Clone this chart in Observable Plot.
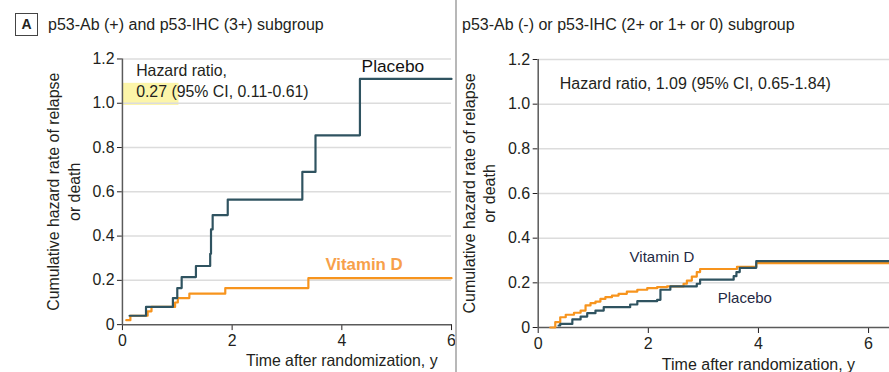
<!DOCTYPE html>
<html><head><meta charset="utf-8">
<script src="https://cdn.jsdelivr.net/npm/d3@7"></script>
<script src="https://cdn.jsdelivr.net/npm/@observablehq/plot@0.6"></script>
<style>
body{margin:0;background:#fff;font-family:"Liberation Sans",Arial,sans-serif;color:#231f20}
#wrap{position:relative;width:889px;height:372px;overflow:hidden;background:#fff}
.panel{position:absolute;top:0;height:372px;overflow:hidden}
#left{left:0;width:456px}
#right{left:457px;width:432px}
#divider{position:absolute;left:455px;top:0;width:2px;height:372px;background:#b8b8b8}
.title{position:absolute;top:15px;font-size:16px;line-height:20px;white-space:nowrap;color:#231f20}
#badge{position:absolute;left:15px;top:13px;width:21px;height:21px;border:1px solid #444;font-weight:bold;font-size:14px;text-align:center;line-height:21px}
</style></head><body>
<div id="wrap">
  <div class="panel" id="left"></div>
  <div class="panel" id="right"></div>
  <div id="divider"></div>
  <div id="badge">A</div>
  <div class="title" id="titleA" style="left:48px"></div>
  <div class="title" id="titleB" style="left:462px"></div>
</div>
<script>
// ---- text ----
const titleA = "p53-Ab (+) and p53-IHC (3+) subgroup";
const titleB = "p53-Ab (-) or p53-IHC (2+ or 1+ or 0) subgroup";
const yLabel = "Cumulative hazard rate of relapse\nor death";
const xLabel = "Time after randomization, y";

// ---- ticks ----
const yTicks = [0, 0.2, 0.4, 0.6, 0.8, 1.0, 1.2];
const gridValues = [0.2, 0.4, 0.6, 0.8, 1.0, 1.2];
const xTicks = [0, 2, 4, 6];

// ---- Panel A: p53-Ab(+) and p53-IHC(3+) ----
const placeboA_t = [0.13, 0.43, 0.92, 1.00, 1.08, 1.34, 1.60, 1.615, 1.645, 1.92, 3.28, 3.52, 4.33, 6.0];
const placeboA_v = [0.04, 0.08, 0.12, 0.165, 0.215, 0.265, 0.32, 0.43, 0.495, 0.565, 0.69, 0.855, 1.11, 1.11];
const vitaminA_t = [0.07, 0.145, 0.46, 0.53, 0.96, 1.01, 1.22, 1.875, 3.39, 6.0];
const vitaminA_v = [0.02, 0.04, 0.06, 0.08, 0.10, 0.12, 0.14, 0.165, 0.21, 0.21];

// ---- Panel B: p53-Ab(-) or p53-IHC(2+/1+/0) ----
const vitaminB_t = [0.22, 0.31, 0.40, 0.50, 0.65, 0.77, 0.86, 0.95, 1.04, 1.13, 1.22, 1.34, 1.46, 1.61, 1.80, 1.98, 2.16, 2.34, 2.64, 2.70, 2.79, 2.88, 2.94, 3.61, 3.96, 6.38];
const vitaminB_v = [0.0, 0.024, 0.046, 0.057, 0.066, 0.076, 0.099, 0.109, 0.116, 0.128, 0.136, 0.143, 0.151, 0.161, 0.169, 0.176, 0.181, 0.184, 0.196, 0.21, 0.228, 0.248, 0.262, 0.272, 0.288, 0.288];
const placeboB_t = [0.37, 0.40, 0.62, 0.77, 0.89, 1.04, 1.19, 1.67, 1.80, 2.16, 2.22, 2.40, 2.88, 2.94, 3.55, 3.60, 3.66, 3.96, 6.38];
const placeboB_v = [0.009, 0.016, 0.036, 0.049, 0.064, 0.076, 0.091, 0.103, 0.118, 0.124, 0.169, 0.184, 0.196, 0.214, 0.23, 0.248, 0.267, 0.297, 0.297];

// ---- annotations ----
const hrA_lines = ["Hazard ratio,", "0.27 (95% CI, 0.11-0.61)"];
const hrA_pos = [{x: 0.25, y: 1.146}, {x: 0.25, y: 1.05}];
const highlightA = [{x1: 0, x2: 1.03, y1: 0.99, y2: 1.09}];
const hrB_text = "Hazard ratio, 1.09 (95% CI, 0.65-1.84)";
const hrB_pos = {x: 0.39, y: 1.09};
const labelsA = [{text: "Placebo", x: 4.36, y: 1.168}, {text: "Vitamin D", x: 3.70, y: 0.273}];
const labelsB = [{text: "Vitamin D", x: 1.66, y: 0.315}, {text: "Placebo", x: 3.26, y: 0.13}];

const zip = (t, v) => t.map((d, i) => ({t: d, v: v[i]}));
const ORANGE = "#f7941d", SLATE = "#2f5360", INK = "#231f20";

function panel({width, marginLeft, marginRight, xmax, vit, pla, extra}) {
  return Plot.plot({
    width, height: 372,
    marginLeft, marginRight, marginTop: 59, marginBottom: 45,
    style: {fontFamily: "Liberation Sans, Arial, sans-serif", fontSize: "16px", color: INK, background: "transparent", overflow: "visible"},
    x: {domain: [0, xmax], ticks: xTicks, tickFormat: d => String(d), tickSize: 6, tickPadding: 4, label: null},
    y: {domain: [0, 1.2], ticks: yTicks, tickFormat: d => d === 0 ? "0" : d.toFixed(1), tickSize: 5, tickPadding: 3, label: null},
    marks: [
      ...(extra.before || []),
      Plot.ruleY(gridValues, {stroke: "#dcdcdc", strokeWidth: 1.5}),
      Plot.ruleY([0], {stroke: "#5a5a5a", strokeWidth: 1.5}),
      Plot.ruleX([0], {stroke: "#5a5a5a", strokeWidth: 1.5}),
      Plot.line(vit, {x: "t", y: "v", curve: "step-after", stroke: ORANGE, strokeWidth: 2.2}),
      Plot.line(pla, {x: "t", y: "v", curve: "step-after", stroke: SLATE, strokeWidth: 2.2}),
      Plot.text([yLabel], {frameAnchor: "left", rotate: -90, dx: -60, lineHeight: 1.28, textAnchor: "middle", fill: INK, fontSize: 16}),
      Plot.text([{x: 4.0, s: xLabel}], {x: "x", text: "s", frameAnchor: "bottom", dy: 42, fill: INK, fontSize: 16}),
      ...(extra.after || [])
    ]
  });
}

document.getElementById("titleA").textContent = titleA;
document.getElementById("titleB").textContent = titleB;

const left = panel({
  width: 460, marginLeft: 123, marginRight: 5, xmax: 6,
  vit: zip(vitaminA_t, vitaminA_v), pla: zip(placeboA_t, placeboA_v),
  extra: {
    before: [Plot.rect(highlightA, {x1: "x1", x2: "x2", y1: "y1", y2: "y2", fill: "#fbf39a", fillOpacity: 0.85})],
    after: [
      Plot.text(hrA_lines.map((s, i) => ({s, ...hrA_pos[i]})), {x: "x", y: "y", text: "s", textAnchor: "start", fill: INK, fontSize: 16}),
      Plot.text([labelsA[0]], {x: "x", y: "y", text: "text", textAnchor: "start", fill: "#111", fontSize: 17.5, fontFamily: "Liberation Sans, Arial, sans-serif"}),
      Plot.text([labelsA[1]], {x: "x", y: "y", text: "text", textAnchor: "start", fill: "#f7a04a", fontSize: 17, fontWeight: "bold"})
    ]
  }
});
document.getElementById("left").appendChild(left);

const right = panel({
  width: 432, marginLeft: 80.7, marginRight: 0, xmax: 6.38,
  vit: zip(vitaminB_t, vitaminB_v), pla: zip(placeboB_t, placeboB_v),
  extra: {
    after: [
      Plot.text([{s: hrB_text, ...hrB_pos}], {x: "x", y: "y", text: "s", textAnchor: "start", fill: INK, fontSize: 16}),
      Plot.text(labelsB, {x: "x", y: "y", text: "text", textAnchor: "start", fill: "#1f2a44", fontSize: 15})
    ]
  }
});
document.getElementById("right").appendChild(right);
</script>
</body></html>
